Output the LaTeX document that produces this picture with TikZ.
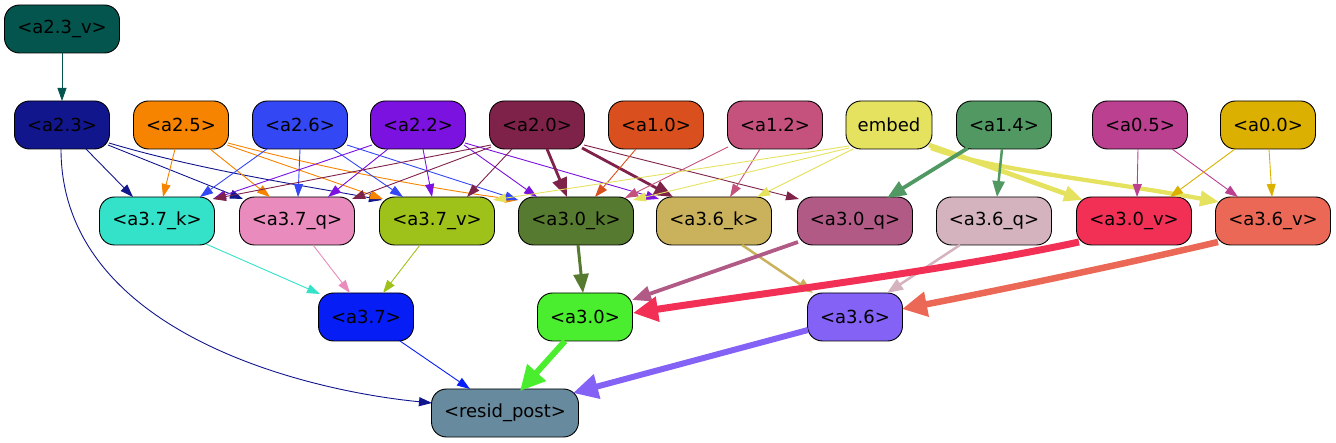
\documentclass[tikz,border=0pt]{standalone}
\usepackage{fontspec}
\setmainfont{DejaVu Sans}
\usetikzlibrary{arrows.meta}
\definecolor{c23v}{HTML}{04554E}
\definecolor{c23}{HTML}{12168C}
\definecolor{c25}{HTML}{F78400}
\definecolor{c26}{HTML}{3447F5}
\definecolor{c22}{HTML}{7B12DF}
\definecolor{c20}{HTML}{7F2249}
\definecolor{c10}{HTML}{D9501E}
\definecolor{c12}{HTML}{C4527C}
\definecolor{cemb}{HTML}{E5E25F}
\definecolor{c14}{HTML}{519862}
\definecolor{c05}{HTML}{BB4090}
\definecolor{c00}{HTML}{DCB000}
\definecolor{ck37}{HTML}{33E2C8}
\definecolor{cq37}{HTML}{E98BBC}
\definecolor{cv37}{HTML}{9EC21A}
\definecolor{ck30}{HTML}{567A2F}
\definecolor{ck36}{HTML}{C9B25B}
\definecolor{cq30}{HTML}{B05A85}
\definecolor{cq36}{HTML}{D4B3BF}
\definecolor{cv30}{HTML}{F22F55}
\definecolor{cv36}{HTML}{EC6856}
\definecolor{c37}{HTML}{061DF5}
\definecolor{c30}{HTML}{4BEE2E}
\definecolor{c36}{HTML}{8462F5}
\definecolor{cres}{HTML}{678A9E}
\begin{document}
\begin{tikzpicture}[x=1pt,y=-1pt,
  box/.style={draw=black, line width=0.9pt, rounded corners=15pt, minimum height=48pt, inner sep=0pt, font=\fontsize{18}{20}\selectfont, text=black},
  sbox/.style={box, minimum width=95pt},
  wbox/.style={box, minimum width=115pt},
  ea/.style={line width=0.9pt, -{Triangle[length=13pt,width=9pt]}},
  eb/.style={line width=2.5pt, -{Triangle[length=16pt,width=12pt]}},
  ec/.style={line width=3.8pt, -{Triangle[length=19pt,width=15pt]}},
  ed/.style={line width=6.5pt, -{Triangle[length=25pt,width=24pt]}}]
\useasboundingbox (0,0) rectangle (1336,443);
% row 0
\node[box, minimum width=115pt, fill=c23v] (n23v) at (62,29) {<a2.3\_v>};
% row 1
\node[sbox, fill=c23] (n23) at (62,125) {<a2.3>};
\node[sbox, fill=c25] (n25) at (181,125) {<a2.5>};
\node[sbox, fill=c26] (n26) at (300,125) {<a2.6>};
\node[sbox, fill=c22] (n22) at (418,125) {<a2.2>};
\node[sbox, fill=c20] (n20) at (537,125) {<a2.0>};
\node[sbox, fill=c10] (n10) at (656,125) {<a1.0>};
\node[sbox, fill=c12] (n12) at (775,125) {<a1.2>};
\node[box, minimum width=86pt, fill=cemb] (emb) at (889,125) {embed};
\node[sbox, fill=c14] (n14) at (1004,125) {<a1.4>};
\node[sbox, fill=c05] (n05) at (1140,125) {<a0.5>};
\node[sbox, fill=c00] (n00) at (1268,125) {<a0.0>};
% row 2
\node[wbox, fill=ck37] (k37) at (157,221) {<a3.7\_k>};
\node[wbox, fill=cq37] (q37) at (297,221) {<a3.7\_q>};
\node[wbox, fill=cv37] (v37) at (437,221) {<a3.7\_v>};
\node[wbox, fill=ck30] (k30) at (576,221) {<a3.0\_k>};
\node[wbox, fill=ck36] (k36) at (714,221) {<a3.6\_k>};
\node[wbox, fill=cq30] (q30) at (855,221) {<a3.0\_q>};
\node[wbox, fill=cq36] (q36) at (994,221) {<a3.6\_q>};
\node[wbox, fill=cv30] (v30) at (1134,221) {<a3.0\_v>};
\node[wbox, fill=cv36] (v36) at (1273,221) {<a3.6\_v>};
% row 3
\node[sbox, fill=c37] (n37) at (366,317) {<a3.7>};
\node[sbox, fill=c30] (n30) at (585,317) {<a3.0>};
\node[sbox, fill=c36] (n36) at (855,317) {<a3.6>};
% row 4
\node[box, minimum width=147pt, fill=cres] (res) at (505,413) {<resid\_post>};
% edges row0->1
\draw[ea, c23v] ([shift={(0,24)}]n23v.center) -- ([shift={(0,-24)}]n23.center);
% a2.3
\draw[ea, c23] ([shift={(24,24)}]n23.center) -- ([shift={(-24,-24)}]k37.center);
\draw[ea, c23] ([shift={(46,20)}]n23.center) -- ([shift={(-54,-22)}]q37.center);
\draw[ea, c23] ([shift={(47,18)}]n23.center) .. controls (200,170) and (300,185) .. ([shift={(-55,-21)}]v37.center);
\draw[ea, c23] ([shift={(-1,24)}]n23.center) .. controls (61,330) and (300,390) .. ([shift={(-73,-10)}]res.center);
% a2.5
\draw[ea, c25] ([shift={(-6,24)}]n25.center) -- ([shift={(6,-24)}]k37.center);
\draw[ea, c25] ([shift={(29,24)}]n25.center) -- ([shift={(-27,-24)}]q37.center);
\draw[ea, c25] ([shift={(46,20)}]n25.center) -- ([shift={(-54,-22)}]v37.center);
\draw[ea, c25] ([shift={(47,18)}]n25.center) .. controls (330,170) and (440,190) .. ([shift={(-58,-21)}]k30.center);
% a2.6
\draw[ea, c26] ([shift={(-33,24)}]n26.center) -- ([shift={(43,-24)}]k37.center);
\draw[ea, c26] ([shift={(0,24)}]n26.center) -- ([shift={(1,-24)}]q37.center);
\draw[ea, c26] ([shift={(33,24)}]n26.center) -- ([shift={(-34,-24)}]v37.center);
\draw[ea, c26] ([shift={(47,20)}]n26.center) -- ([shift={(-58,-21)}]k30.center);
% a2.2
\draw[ea, c22] ([shift={(-46,20)}]n22.center) -- ([shift={(56,-22)}]k37.center);
\draw[ea, c22] ([shift={(-30,24)}]n22.center) -- ([shift={(31,-24)}]q37.center);
\draw[ea, c22] ([shift={(5,24)}]n22.center) -- ([shift={(-5,-24)}]v37.center);
\draw[ea, c22] ([shift={(46,20)}]n22.center) -- ([shift={(-39,-24)}]k30.center);
\draw[ea, c22] ([shift={(47,18)}]n22.center) -- ([shift={(-55,-22)}]k36.center);
% a2.0
\draw[ea, c20] ([shift={(-46,20)}]n20.center) -- ([shift={(56,-22)}]k37.center);
\draw[ea, c20] ([shift={(-46,22)}]n20.center) -- ([shift={(55,-22)}]q37.center);
\draw[ea, c20] ([shift={(-25,24)}]n20.center) -- ([shift={(30,-24)}]v37.center);
\draw[ec, line width=2.8pt, c20] ([shift={(10,24)}]n20.center) -- ([shift={(-9,-24)}]k30.center);
\draw[ec, line width=2.8pt, c20] ([shift={(45,23)}]n20.center) -- ([shift={(-41,-24)}]k36.center);
\draw[ea, c20] ([shift={(47,20)}]n20.center) -- ([shift={(-56,-22)}]q30.center);
% a1.0, a1.2
\draw[ea, c10] ([shift={(-20,24)}]n10.center) -- ([shift={(19,-24)}]k30.center);
\draw[ea, c12] ([shift={(-47,22)}]n12.center) -- ([shift={(49,-23)}]k30.center);
\draw[ea, c12] ([shift={(-15,24)}]n12.center) -- ([shift={(16,-24)}]k36.center);
% embed
\draw[ea, cemb] ([shift={(-40,21)}]emb.center) -- ([shift={(56,-21)}]v37.center);
\draw[ea, cemb] ([shift={(-40,23)}]emb.center) -- ([shift={(57,-21)}]k30.center);
\draw[ea, cemb] ([shift={(-36,24)}]emb.center) -- ([shift={(43,-24)}]k36.center);
\draw[ec, line width=4.8pt, cemb] ([shift={(40,20)}]emb.center) -- ([shift={(-51,-21)}]v30.center);
\draw[ec, line width=4.3pt, cemb] ([shift={(42,23)}]emb.center) .. controls (990,170) and (1100,180) .. ([shift={(-54,-19)}]v36.center);
% a1.4
\draw[ec, c14] ([shift={(-36,23)}]n14.center) -- ([shift={(32,-23)}]q30.center);
\draw[eb, c14] ([shift={(-2,24)}]n14.center) -- ([shift={(3,-24)}]q36.center);
% a0.5, a0.0
\draw[ea, c05] ([shift={(-2,24)}]n05.center) -- ([shift={(3,-24)}]v30.center);
\draw[ea, c05] ([shift={(32,24)}]n05.center) -- ([shift={(-35,-24)}]v36.center);
\draw[ea, c00] ([shift={(-33,24)}]n00.center) -- ([shift={(36,-24)}]v30.center);
\draw[ea, c00] ([shift={(1,24)}]n00.center) -- ([shift={(-1,-24)}]v36.center);
% row2 -> row3
\draw[ea, ck37] ([shift={(49,23)}]k37.center) -- ([shift={(-46,-23)}]n37.center);
\draw[ea, cq37] ([shift={(16,24)}]q37.center) -- ([shift={(-16,-24)}]n37.center);
\draw[ea, cv37] ([shift={(-17,24)}]v37.center) -- ([shift={(17,-24)}]n37.center);
\draw[ec, line width=3pt, ck30] ([shift={(2,24)}]k30.center) -- ([shift={(-2,-24)}]n30.center);
\draw[eb, ck36] ([shift={(28,24)}]k36.center) -- ([shift={(-42,-24)}]n36.center);
\draw[ec, cq30] ([shift={(-57,21)}]q30.center) -- ([shift={(47,-17)}]n30.center);
\draw[eb, cq36] ([shift={(-34,24)}]q36.center) -- ([shift={(32,-24)}]n36.center);
\draw[ed, line width=7pt, cv30] ([shift={(-55,21)}]v30.center) .. controls (950,270) and (750,295) .. ([shift={(48,-4)}]n30.center);
\draw[ed, cv36] ([shift={(-55,21)}]v36.center) .. controls (1120,265) and (1000,290) .. ([shift={(47,-8)}]n36.center);
% row3 -> resid
\draw[ea, c37] ([shift={(34,24)}]n37.center) -- ([shift={(-35,-24)}]res.center);
\draw[ed, line width=6pt, c30] ([shift={(-20,24)}]n30.center) -- ([shift={(15,-22)}]res.center);
\draw[ed, line width=6pt, c36] ([shift={(-47,13)}]n36.center) -- ([shift={(68,-20)}]res.center);
\end{tikzpicture}
\end{document}
